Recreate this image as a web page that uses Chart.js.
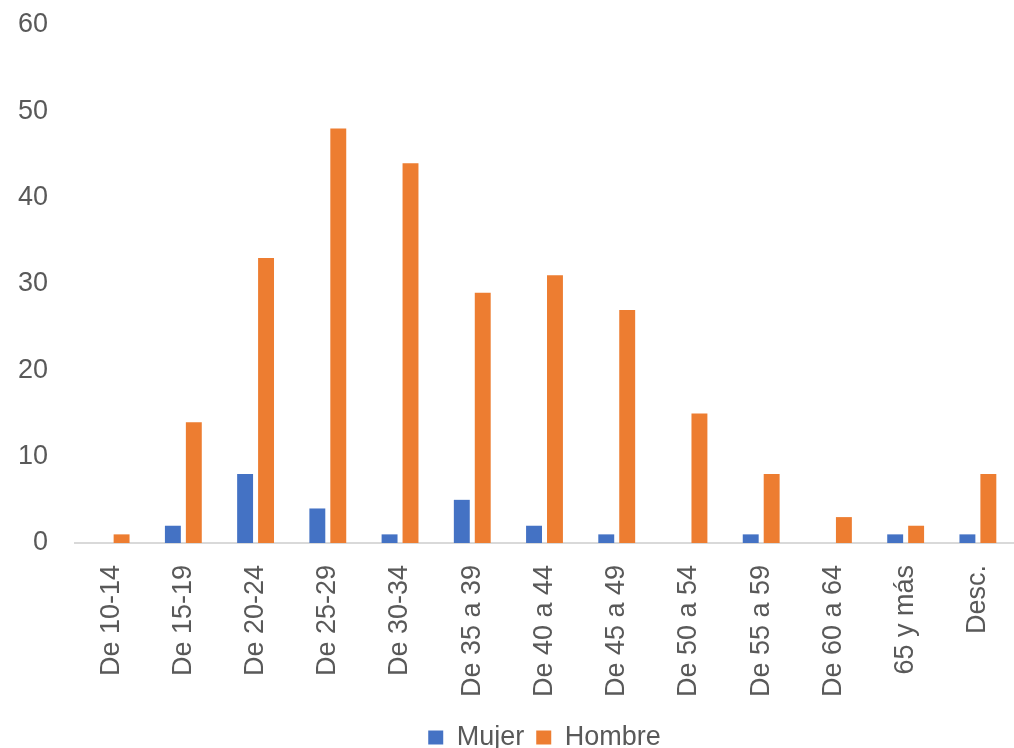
<!DOCTYPE html>
<html>
<head>
<meta charset="utf-8">
<script src="https://cdn.jsdelivr.net/npm/chart.js@4"></script>
<style>
  html, body { margin: 0; padding: 0; background: #fff; }
  #wrap { width: 1014px; height: 748px; }
</style>
</head>
<body>
<div id="wrap"><canvas id="myChart" width="1014" height="748"></canvas></div>
<script>
const labels = ['De 10-14', 'De 15-19', 'De 20-24', 'De 25-29', 'De 30-34', 'De 35 a 39',
  'De 40 a 44', 'De 45 a 49', 'De 50 a 54', 'De 55 a 59', 'De 60 a 64', '65 y más', 'Desc.'];
const mujer = [0, 2, 8, 4, 1, 5, 2, 1, 0, 1, 0, 1, 1];
const hombre = [1, 14, 33, 48, 44, 29, 31, 27, 15, 8, 3, 2, 8];

const fontFamily = 'Liberation Sans';
const textColor = '#595959';

var ctx = document.getElementById('myChart').getContext('2d');
var myChart = new Chart(ctx, {
    type: 'bar',
    data: {
        labels: labels,
        datasets: [{
            label: 'Mujer',
            backgroundColor: '#4472C4',
            data: mujer,
            barPercentage: 0.76,
            categoryPercentage: 0.58
        }, {
            label: 'Hombre',
            backgroundColor: '#ED7D31',
            data: hombre,
            barPercentage: 0.76,
            categoryPercentage: 0.58
        }]
    },
    options: {
        responsive: false,
        animation: false,
        layout: { padding: { top: 25, right: 0, left: 0, bottom: -13 } },
        plugins: {
            legend: {
                position: 'bottom',
                fullSize: false,
                labels: {
                    font: { family: fontFamily, size: 27 },
                    color: textColor,
                    boxWidth: 15,
                    boxHeight: 14,
                    padding: 12
                }
            },
            tooltip: { enabled: false }
        },
        scales: {
            x: {
                grid: { display: false },
                border: { display: true, color: '#d9d9d9', width: 2 },
                ticks: {
                    font: { family: fontFamily, size: 27 },
                    color: textColor,
                    minRotation: 90,
                    maxRotation: 90,
                    padding: 14
                },
                afterFit: function(axis) {
                    axis.height = 169;
                    axis.paddingLeft = 0;
                    axis.paddingRight = 0;
                }
            },
            y: {
                min: 0,
                max: 60,
                grid: { display: false },
                border: { display: false },
                ticks: {
                    stepSize: 10,
                    font: { family: fontFamily, size: 27 },
                    color: textColor,
                    padding: 19
                },
                afterFit: function(axis) {
                    axis.width = 75;
                    axis.paddingTop = 0;
                    axis.paddingBottom = 0;
                }
            }
        }
    }
});
</script>
</body>
</html>
